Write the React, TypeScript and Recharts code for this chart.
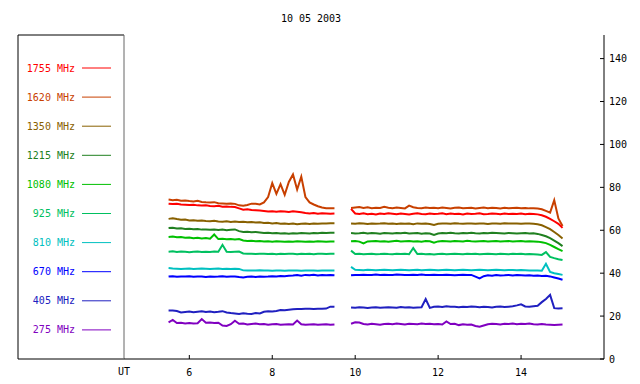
import React from "react";
import { LineChart, Line, XAxis, YAxis } from "recharts";

const FONT = "'DejaVu Sans Mono', monospace";

// UT hours, morning and afternoon runs (there is a data gap near 9.7)
const T1 = [5.5, 5.6, 5.7, 5.8, 5.9, 6.0, 6.1, 6.2, 6.3, 6.4, 6.5, 6.6, 6.7, 6.8, 6.9, 7.0, 7.1, 7.2, 7.3, 7.4, 7.5, 7.6, 7.7, 7.8, 7.9, 8.0, 8.1, 8.2, 8.3, 8.4, 8.5, 8.6, 8.7, 8.8, 8.9, 9.0, 9.1, 9.2, 9.3, 9.4, 9.5];
const T2 = [9.9, 10.0, 10.1, 10.2, 10.3, 10.4, 10.5, 10.6, 10.7, 10.8, 10.9, 11.0, 11.1, 11.2, 11.3, 11.4, 11.5, 11.6, 11.7, 11.8, 11.9, 12.0, 12.1, 12.2, 12.3, 12.4, 12.5, 12.6, 12.7, 12.8, 12.9, 13.0, 13.1, 13.2, 13.3, 13.4, 13.5, 13.6, 13.7, 13.8, 13.9, 14.0, 14.1, 14.2, 14.3, 14.4, 14.5, 14.6, 14.7, 14.8, 14.9, 15.0];
const GAP = 9.7;

const xTicks = [6, 8, 10, 12, 14];
const yTicks = [0, 20, 40, 60, 80, 100, 120, 140];

const f1755a = [72.4, 72.2, 72.3, 72.0, 71.9, 71.8, 71.9, 71.6, 71.5, 71.6, 71.3, 71.2, 71.4, 71.0, 71.1, 70.9, 70.8, 70.2, 69.6, 69.8, 69.4, 69.3, 69.2, 69.0, 68.8, 68.9, 68.6, 68.8, 68.7, 68.5, 68.8, 68.6, 68.4, 68.0, 67.8, 68.0, 67.7, 67.9, 67.8, 67.7, 67.8];
const f1755b = [70.0, 67.8, 67.6, 67.9, 67.5, 67.7, 67.4, 67.8, 67.6, 67.9, 67.7, 67.5, 67.8, 67.6, 67.4, 67.7, 67.9, 67.6, 67.5, 67.8, 67.6, 67.7, 67.9, 67.5, 67.8, 67.6, 67.7, 67.4, 67.8, 67.6, 67.7, 67.9, 67.5, 67.6, 67.8, 67.7, 67.5, 67.8, 67.6, 67.7, 67.6, 67.8, 67.5, 67.7, 67.6, 67.4, 67.0, 66.3, 65.3, 64.2, 63.0, 61.1];

const f1620a = [74.3, 74.0, 74.2, 73.8, 73.9, 73.6, 73.4, 73.7, 73.2, 73.0, 72.9, 73.1, 72.6, 72.5, 72.4, 72.5, 72.3, 71.6, 71.4, 71.8, 72.4, 72.3, 72.0, 73.0, 75.5, 82.0, 77.0, 81.5, 76.5, 82.5, 86.0, 79.0, 85.0, 75.5, 73.0, 72.0, 71.2, 70.6, 70.3, 70.2, 70.2];
const f1620b = [70.4, 70.6, 70.8, 70.4, 70.7, 70.3, 70.5, 70.4, 70.9, 70.5, 70.3, 70.6, 70.4, 70.2, 71.5, 70.7, 70.4, 70.3, 70.6, 70.4, 70.5, 70.3, 70.6, 70.4, 70.2, 70.5, 70.6, 70.3, 70.4, 70.5, 70.2, 70.4, 70.6, 70.3, 70.5, 70.4, 70.2, 70.5, 70.3, 70.4, 70.5, 70.3, 70.4, 70.2, 70.3, 70.1, 69.8, 69.0, 68.2, 74.0, 65.5, 62.0];

const f1350a = [65.3, 65.6, 65.2, 64.9, 65.0, 64.6, 64.7, 64.4, 64.5, 64.3, 64.2, 64.4, 64.1, 64.0, 64.2, 63.9, 64.1, 63.8, 64.0, 63.7, 63.8, 63.6, 63.7, 63.4, 63.5, 63.2, 63.4, 63.0, 63.2, 62.9, 63.1, 62.8, 63.0, 63.2, 62.9, 63.1, 63.0, 63.2, 63.1, 63.3, 63.3];
const f1350b = [63.2, 63.0, 63.3, 63.1, 62.9, 63.2, 63.0, 63.1, 63.3, 63.0, 63.1, 62.9, 63.2, 63.0, 63.1, 62.8, 63.2, 63.0, 63.1, 62.9, 62.5, 63.0, 63.2, 63.1, 63.0, 63.3, 63.1, 63.0, 63.2, 63.1, 63.0, 63.2, 63.1, 62.9, 63.1, 63.2, 63.0, 63.3, 63.1, 63.2, 63.1, 63.0, 63.2, 63.1, 63.0, 62.8, 62.3, 61.5, 60.5, 59.2, 57.8, 56.2];

const f1215a = [61.0, 61.2, 60.8, 60.9, 60.6, 60.7, 60.5, 60.6, 60.3, 60.4, 60.2, 60.4, 60.1, 60.3, 60.0, 60.2, 60.4, 59.6, 59.2, 59.3, 59.1, 59.2, 59.0, 58.7, 58.8, 58.6, 58.7, 58.5, 58.6, 58.4, 58.6, 58.5, 58.7, 58.6, 58.5, 58.7, 58.6, 58.8, 58.7, 58.8, 58.8];
const f1215b = [58.7, 58.5, 58.6, 58.8, 58.5, 58.7, 58.6, 58.4, 58.7, 58.6, 58.5, 58.7, 58.6, 58.8, 58.5, 58.6, 58.7, 58.4, 58.6, 58.5, 57.8, 58.5, 58.7, 58.6, 58.8, 58.6, 58.5, 58.7, 58.6, 58.8, 58.6, 58.5, 58.7, 58.6, 58.8, 58.7, 58.6, 58.5, 58.7, 58.6, 58.5, 58.6, 58.7, 58.5, 58.6, 58.3, 57.8, 57.2, 56.3, 55.2, 54.0, 52.6];

const f1080a = [56.9, 57.1, 56.7, 56.8, 56.5, 56.6, 56.3, 56.5, 56.2, 56.4, 56.1, 58.0, 55.9, 56.0, 55.8, 55.9, 55.7, 55.9, 55.2, 55.0, 55.1, 54.9, 55.0, 54.8, 54.9, 54.7, 54.9, 54.8, 54.6, 54.8, 54.7, 54.9, 54.8, 54.6, 54.8, 54.7, 54.9, 54.8, 54.7, 54.8, 54.8];
const f1080b = [54.9, 55.0, 54.7, 53.9, 54.8, 54.9, 55.0, 54.8, 54.9, 54.7, 54.9, 55.1, 54.8, 54.9, 55.0, 54.8, 54.9, 54.7, 55.0, 54.9, 54.2, 54.8, 55.0, 54.9, 54.8, 55.0, 54.9, 54.8, 55.1, 54.9, 54.8, 54.9, 55.0, 54.8, 54.9, 55.0, 54.8, 54.9, 55.0, 54.8, 54.9, 55.0, 54.8, 54.9, 54.8, 54.7, 54.4, 54.0, 53.2, 52.2, 51.2, 50.3];

const f925a = [50.0, 50.2, 49.9, 50.1, 50.0, 49.8, 50.0, 50.1, 49.9, 50.0, 49.9, 50.1, 50.0, 53.2, 50.0, 49.9, 50.0, 50.1, 49.2, 49.0, 49.1, 48.9, 49.0, 49.1, 48.9, 49.0, 48.8, 49.0, 48.9, 49.1, 49.0, 48.8, 49.1, 48.9, 49.0, 48.8, 49.0, 49.1, 48.9, 49.0, 49.0];
const f925b = [50.5, 48.9, 49.0, 48.8, 48.9, 49.0, 48.8, 48.9, 49.1, 48.9, 48.8, 49.0, 48.9, 49.0, 48.8, 51.7, 48.9, 49.0, 48.8, 48.9, 48.7, 48.9, 49.0, 48.8, 48.9, 49.0, 48.9, 48.8, 49.0, 48.9, 49.0, 48.8, 48.9, 49.0, 48.9, 48.8, 49.0, 48.9, 48.8, 49.0, 48.9, 49.0, 48.8, 48.9, 48.8, 48.7, 48.5, 49.8, 47.6, 47.0, 46.5, 46.1];

const f810a = [42.4, 42.2, 42.1, 42.0, 42.1, 42.2, 42.0, 42.1, 42.2, 42.1, 42.0, 42.1, 42.2, 42.0, 42.1, 42.0, 42.1, 42.0, 41.3, 41.2, 41.3, 41.2, 41.4, 41.2, 41.3, 41.1, 41.2, 41.3, 41.1, 41.2, 41.3, 41.2, 41.1, 41.2, 41.3, 41.2, 41.1, 41.3, 41.2, 41.2, 41.2];
const f810b = [42.9, 41.6, 41.5, 41.4, 41.6, 41.5, 41.4, 41.5, 41.6, 41.5, 41.4, 41.5, 41.6, 41.5, 41.4, 41.5, 41.6, 41.4, 41.5, 41.6, 41.5, 41.4, 41.5, 41.6, 41.5, 41.4, 41.5, 41.6, 41.5, 41.4, 41.5, 41.6, 41.5, 41.4, 41.5, 41.6, 41.5, 41.4, 41.5, 41.5, 41.4, 41.5, 41.4, 41.3, 41.3, 41.2, 41.1, 44.4, 40.6, 40.0, 39.6, 39.2];

const f670a = [38.4, 38.6, 38.3, 38.5, 38.4, 38.6, 38.3, 38.5, 38.4, 38.2, 38.5, 38.3, 38.4, 38.6, 38.3, 38.4, 38.5, 38.2, 38.0, 38.3, 38.4, 38.2, 38.5, 38.3, 38.4, 38.6, 38.5, 38.7, 38.6, 38.8, 38.9, 39.1, 38.8, 39.2, 39.0, 39.3, 38.9, 39.2, 39.0, 39.1, 39.0];
const f670b = [39.0, 39.2, 39.1, 39.3, 39.2, 39.1, 39.4, 39.2, 39.3, 39.1, 39.2, 39.4, 39.3, 39.2, 39.1, 39.3, 39.2, 39.4, 39.1, 39.2, 39.3, 39.2, 39.1, 39.3, 39.2, 39.0, 39.2, 39.3, 39.1, 39.2, 38.4, 37.6, 38.6, 39.0, 38.8, 39.1, 38.9, 39.0, 39.2, 38.9, 39.1, 39.0, 38.9, 39.0, 38.8, 38.9, 38.7, 38.8, 38.5, 38.0, 37.5, 36.9];

const f405a = [22.6, 22.6, 22.4, 21.7, 21.9, 22.1, 21.8, 22.0, 22.2, 21.9, 22.1, 21.8, 22.0, 22.3, 21.7, 21.4, 21.2, 21.0, 21.3, 21.1, 21.0, 21.4, 21.2, 22.0, 22.3, 22.1, 22.4, 22.8, 22.7, 23.0, 23.2, 23.3, 23.3, 23.4, 23.4, 23.3, 23.4, 23.4, 23.5, 24.4, 24.3];
const f405b = [24.0, 23.9, 24.1, 24.0, 23.8, 24.0, 24.1, 23.9, 24.0, 24.1, 24.0, 23.9, 24.2, 24.0, 24.1, 23.9, 24.0, 24.1, 27.9, 23.8, 24.3, 24.5, 24.2, 24.6, 24.4, 24.3, 24.1, 24.4, 24.2, 24.5, 24.3, 24.1, 24.4, 24.2, 24.0, 24.3, 24.5, 24.2, 24.4, 24.6, 25.0, 25.5, 24.5, 24.3, 24.6, 24.8, 26.5, 28.0, 29.9, 23.7, 23.5, 23.6];

const f275a = [17.1, 18.2, 16.8, 16.9, 16.6, 16.8, 16.5, 16.7, 18.6, 16.9, 17.0, 16.8, 16.9, 15.6, 15.4, 16.2, 17.8, 16.4, 16.5, 16.1, 16.3, 16.5, 16.2, 16.3, 16.0, 16.2, 16.3, 16.0, 16.1, 16.2, 16.1, 17.9, 16.2, 16.0, 16.1, 16.2, 16.0, 16.1, 16.2, 16.0, 16.1];
const f275b = [16.4, 17.1, 17.0, 16.3, 16.1, 16.4, 16.2, 16.0, 16.3, 16.4, 16.2, 16.5, 16.3, 16.1, 16.4, 16.3, 16.2, 16.5, 16.3, 16.4, 16.2, 16.3, 16.1, 17.5, 16.3, 16.4, 15.8, 16.2, 16.0, 16.1, 15.4, 15.0, 15.6, 16.2, 16.4, 16.3, 16.1, 16.4, 16.3, 16.5, 16.2, 16.4, 16.3, 16.5, 16.2, 16.1, 16.3, 16.1, 16.0, 15.9, 16.0, 16.1];

const series = [
  { key: "f1755", label: "1755 MHz", color: "#ff0000", a: f1755a, b: f1755b },
  { key: "f1620", label: "1620 MHz", color: "#c84000", a: f1620a, b: f1620b },
  { key: "f1350", label: "1350 MHz", color: "#886000", a: f1350a, b: f1350b },
  { key: "f1215", label: "1215 MHz", color: "#208020", a: f1215a, b: f1215b },
  { key: "f1080", label: "1080 MHz", color: "#00c000", a: f1080a, b: f1080b },
  { key: "f925", label: "925 MHz", color: "#00c060", a: f925a, b: f925b },
  { key: "f810", label: "810 MHz", color: "#00c0c0", a: f810a, b: f810b },
  { key: "f670", label: "670 MHz", color: "#0000ff", a: f670a, b: f670b },
  { key: "f405", label: "405 MHz", color: "#2020c0", a: f405a, b: f405b },
  { key: "f275", label: "275 MHz", color: "#8000c0", a: f275a, b: f275b },
];

function row(t: number, pick: (s: (typeof series)[number]) => number | null) {
  const r: Record<string, number | null> = { t };
  series.forEach((s) => (r[s.key] = pick(s)));
  return r;
}

const data = [
  ...T1.map((t, i) => row(t, (s) => s.a[i])),
  row(GAP, () => null),
  ...T2.map((t, j) => row(t, (s) => s.b[j])),
];

const tickStyle = { fontFamily: FONT, fontSize: 10, fill: "#000" };

function Frame() {
  return (
    <g>
      <text x={311} y={22} textAnchor="middle" style={tickStyle}>
        10 05 2003
      </text>
      <line x1={18} y1={35} x2={124} y2={35} stroke="#000" />
      <line x1={18} y1={359} x2={124} y2={359} stroke="#000" />
      <line x1={18} y1={35} x2={18} y2={359} stroke="#000" />
      <line x1={124} y1={35} x2={124} y2={359} stroke="#666" />
      <text x={124} y={375} textAnchor="middle" style={tickStyle}>
        UT
      </text>
      {series.map((s, i) => {
        const y = 68 + i * 29.1;
        return (
          <g key={s.key}>
            <text x={75} y={y + 3.5} textAnchor="end" style={{ ...tickStyle, fill: s.color }}>
              {s.label}
            </text>
            <line x1={82} y1={y} x2={111} y2={y} stroke={s.color} />
          </g>
        );
      })}
    </g>
  );
}

export default function App() {
  return (
    <div style={{ position: "absolute", left: 0, top: 0 }}>
      <LineChart
        width={640}
        height={384}
        data={data}
        margin={{ top: 35, right: 0, left: 124, bottom: 0 }}
        style={{ background: "#fff" }}>
        <XAxis
          dataKey="t"
          type="number"
          domain={[4.425, 16]}
          ticks={xTicks}
          allowDataOverflow
          height={25}
          tickSize={-4}
          tickMargin={14}
          axisLine={{ stroke: "#000" }}
          tickLine={{ stroke: "#000" }}
          tick={tickStyle}
        />
        <XAxis
          xAxisId="top"
          orientation="top"
          dataKey="t"
          type="number"
          domain={[4.425, 16]}
          ticks={xTicks}
          allowDataOverflow
          height={0}
          tickSize={-4}
          tick={false}
          axisLine={{ stroke: "#000" }}
          tickLine={{ stroke: "#000" }}
        />
        <YAxis
          orientation="right"
          type="number"
          domain={[0, 151]}
          ticks={yTicks}
          width={36}
          tickSize={-4}
          tickMargin={9}
          axisLine={{ stroke: "#000" }}
          tickLine={{ stroke: "#000" }}
          tick={{ ...tickStyle, textAnchor: "start" }}
        />
        {series
          .slice()
          .reverse()
          .map((s) => (
            <Line
              key={s.key}
              dataKey={s.key}
              stroke={s.color}
              strokeWidth={2}
              dot={false}
              type="linear"
              connectNulls={false}
              isAnimationActive={false}
            />
          ))}
        <Frame />
      </LineChart>
    </div>
  );
}
